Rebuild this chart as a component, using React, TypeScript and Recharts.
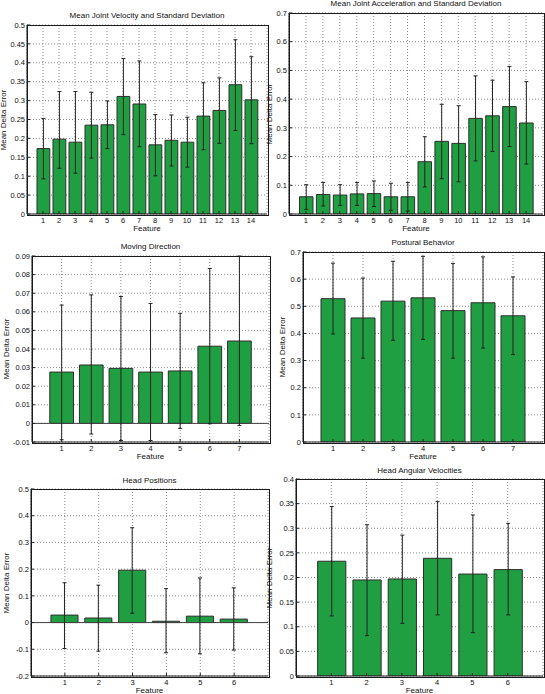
import { Bar, BarChart, CartesianGrid, ErrorBar, ReferenceLine, XAxis, YAxis } from "recharts";

const GREEN = "#1f9e42";
const EDGE = "#2e2e2e";
const FONT = '"Liberation Sans", Arial, Helvetica, sans-serif';

// feature ids
const features14 = [1, 2, 3, 4, 5, 6, 7, 8, 9, 10, 11, 12, 13, 14];
const features7 = [1, 2, 3, 4, 5, 6, 7];
const features6 = [1, 2, 3, 4, 5, 6];

// y tick labels
const velTicks = [0, 0.05, 0.1, 0.15, 0.2, 0.25, 0.3, 0.35, 0.4, 0.45, 0.5];
const accTicks = [0, 0.1, 0.2, 0.3, 0.4, 0.5, 0.6, 0.7];
const dirTicks = [-0.01, 0, 0.01, 0.02, 0.03, 0.04, 0.05, 0.06, 0.07, 0.08, 0.09];
const postTicks = [0, 0.1, 0.2, 0.3, 0.4, 0.5, 0.6, 0.7];
const headPosTicks = [-0.2, -0.1, 0, 0.1, 0.2, 0.3, 0.4, 0.5];
const headAngTicks = [0, 0.05, 0.1, 0.15, 0.2, 0.25, 0.3, 0.35, 0.4];

// mean joint velocity
const velMean = [0.173, 0.198, 0.19, 0.235, 0.236, 0.311, 0.291, 0.183, 0.195, 0.19, 0.259, 0.274, 0.342, 0.302];
const velHigh = [0.253, 0.324, 0.324, 0.322, 0.299, 0.411, 0.405, 0.263, 0.262, 0.256, 0.347, 0.36, 0.461, 0.416];
const velLow = [0.093, 0.121, 0.108, 0.148, 0.173, 0.21, 0.178, 0.101, 0.127, 0.124, 0.17, 0.187, 0.221, 0.186];

// mean joint acceleration
const accMean = [0.06, 0.068, 0.066, 0.07, 0.071, 0.06, 0.06, 0.182, 0.253, 0.246, 0.333, 0.342, 0.374, 0.317];
const accHigh = [0.102, 0.11, 0.102, 0.11, 0.115, 0.107, 0.11, 0.269, 0.382, 0.377, 0.481, 0.466, 0.514, 0.461];
const accLow = [0.016, 0.028, 0.03, 0.03, 0.026, 0.013, 0.01, 0.094, 0.123, 0.112, 0.185, 0.218, 0.235, 0.174];

// moving direction
const dirMean = [0.0276, 0.0314, 0.0296, 0.0276, 0.0282, 0.0415, 0.0443];
const dirHigh = [0.0636, 0.0691, 0.0682, 0.0645, 0.0592, 0.0833, 0.09];
const dirLow = [-0.0088, -0.0057, -0.0092, -0.0092, -0.0027, -0.0002, -0.0011];

// postural behavior
const postMean = [0.528, 0.457, 0.519, 0.531, 0.484, 0.513, 0.465];
const postHigh = [0.659, 0.604, 0.666, 0.684, 0.658, 0.682, 0.608];
const postLow = [0.398, 0.309, 0.375, 0.378, 0.309, 0.346, 0.322];

// head positions
const headPosMean = [0.028, 0.017, 0.196, 0.005, 0.024, 0.013];
const headPosHigh = [0.149, 0.14, 0.355, 0.127, 0.167, 0.13];
const headPosLow = [-0.097, -0.107, 0.035, -0.113, -0.117, -0.103];

// head angular velocities
const headAngMean = [0.233, 0.195, 0.197, 0.239, 0.207, 0.216];
const headAngHigh = [0.344, 0.307, 0.286, 0.354, 0.327, 0.31];
const headAngLow = [0.122, 0.082, 0.107, 0.124, 0.088, 0.124];

type Row = { feature: number; mean: number; err: [number, number] };

const toRows = (f: number[], mean: number[], low: number[], high: number[]): Row[] =>
    f.map((x, i) => ({ feature: x, mean: mean[i], err: [mean[i] - low[i], high[i] - mean[i]] }));

type Box = { x: number; y: number; w: number; h: number };

type PanelProps = {
    title: string;
    rows: Row[];
    xTicks: number[];
    yTicks: number[];
    box: Box;
    titleY: number;
    labelX: number;
};

const YW = 30;
const MT = 8;
const MR = 4;
const XH = 20;

function Panel({ title, rows, xTicks, yTicks, box, titleY, labelX }: PanelProps) {
    const xDomain: [number, number] = [0, xTicks.length + 1];
    const yDomain: [number, number] = [yTicks[0], yTicks[yTicks.length - 1]];
    const barSize = (0.8 * box.w) / (xTicks.length + 1);
    const text = { fontSize: 8, fontFamily: FONT, color: "#111", lineHeight: "10px", whiteSpace: "nowrap" as const };
    const tick = { fontSize: 7.5, fontFamily: FONT, fill: "#111" };

    return (
        <>
            <div style={{ position: "absolute", left: box.x - YW, top: box.y - MT }}>
                <BarChart
                    width={box.w + YW + MR}
                    height={box.h + MT + XH}
                    data={rows}
                    margin={{ top: MT, right: MR, bottom: 0, left: 0 }}
                >
                    <CartesianGrid stroke="#8c8c8c" strokeDasharray="1 2" />
                    <XAxis
                        dataKey="feature"
                        type="number"
                        domain={xDomain}
                        ticks={xTicks}
                        interval={0}
                        allowDataOverflow
                        height={XH}
                        tickSize={-3}
                        tickMargin={7}
                        stroke="#222"
                        tick={tick}
                    />
                    <YAxis
                        type="number"
                        domain={yDomain}
                        ticks={yTicks}
                        interval={0}
                        allowDataOverflow
                        width={YW}
                        tickSize={-3}
                        tickMargin={5}
                        stroke="#222"
                        tick={tick}
                        tickFormatter={(v: number) => String(v)}
                    />
                    {yDomain[0] < 0 && <ReferenceLine y={0} stroke="#444" strokeWidth={1} />}
                    <Bar
                        dataKey="mean"
                        fill={GREEN}
                        stroke={EDGE}
                        strokeWidth={1}
                        barSize={barSize}
                        isAnimationActive={false}
                    >
                        <ErrorBar dataKey="err" direction="y" width={2} stroke="#222" strokeWidth={1} />
                    </Bar>
                </BarChart>
            </div>
            {/* axes box */}
            <div
                style={{
                    position: "absolute",
                    left: box.x - 0.5,
                    top: box.y - 0.5,
                    width: box.w,
                    height: box.h,
                    border: "1px solid #1a1a1a",
                    pointerEvents: "none",
                }}
            />
            <div style={{ ...text, position: "absolute", left: box.x, width: box.w, top: titleY - 5, textAlign: "center" }}>
                {title}
            </div>
            <div
                style={{
                    ...text,
                    position: "absolute",
                    left: box.x,
                    width: box.w,
                    top: box.y + box.h + 10,
                    textAlign: "center",
                }}
            >
                Feature
            </div>
            <div
                style={{
                    ...text,
                    position: "absolute",
                    left: labelX - 50,
                    width: 100,
                    top: box.y + box.h / 2 - 5,
                    textAlign: "center",
                    transform: "rotate(-90deg)",
                }}
            >
                Mean Delta Error
            </div>
        </>
    );
}

export default function App() {
    return (
        <div
            style={{
                position: "absolute",
                left: 0,
                top: 0,
                width: 545,
                height: 694,
                background: "#fff",
                overflow: "hidden",
                fontFamily: FONT,
            }}
        >
            <Panel
                title="Mean Joint Velocity and Standard Deviation"
                rows={toRows(features14, velMean, velLow, velHigh)}
                xTicks={features14}
                yTicks={velTicks}
                box={{ x: 27, y: 25, w: 240, h: 189 }}
                titleY={16}
                labelX={4}
            />
            <Panel
                title="Mean Joint Acceleration and Standard Deviation"
                rows={toRows(features14, accMean, accLow, accHigh)}
                xTicks={features14}
                yTicks={accTicks}
                box={{ x: 289, y: 13, w: 254, h: 201 }}
                titleY={4}
                labelX={270}
            />
            <Panel
                title="Moving Direction"
                rows={toRows(features7, dirMean, dirLow, dirHigh)}
                xTicks={features7}
                yTicks={dirTicks}
                box={{ x: 32, y: 256, w: 237, h: 186 }}
                titleY={247}
                labelX={6.5}
            />
            <Panel
                title="Postural Behavior"
                rows={toRows(features7, postMean, postLow, postHigh)}
                xTicks={features7}
                yTicks={postTicks}
                box={{ x: 303, y: 252, w: 240, h: 190 }}
                titleY={243}
                labelX={283}
            />
            <Panel
                title="Head Positions"
                rows={toRows(features6, headPosMean, headPosLow, headPosHigh)}
                xTicks={features6}
                yTicks={headPosTicks}
                box={{ x: 31, y: 489, w: 237, h: 187 }}
                titleY={481}
                labelX={6.5}
            />
            <Panel
                title="Head Angular Velocities"
                rows={toRows(features6, headAngMean, headAngLow, headAngHigh)}
                xTicks={features6}
                yTicks={headAngTicks}
                box={{ x: 296, y: 479, w: 247, h: 197 }}
                titleY={471}
                labelX={270}
            />
        </div>
    );
}
